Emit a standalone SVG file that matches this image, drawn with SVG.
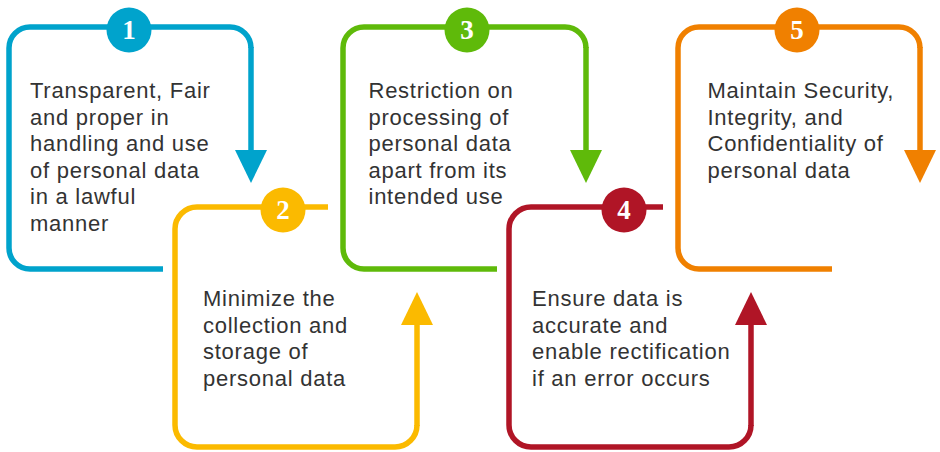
<svg xmlns="http://www.w3.org/2000/svg" width="940" height="452" viewBox="0 0 940 452">
<style>
.frame{fill:none;stroke-width:5.5;stroke-linecap:butt;stroke-linejoin:round}
.conn{fill:none;stroke-width:5.5;stroke-linecap:butt}
.t{font-family:"Liberation Sans",Arial,sans-serif;font-size:22px;letter-spacing:0.75px;fill:#333333}
.num{font-family:"Liberation Serif","Times New Roman",serif;font-weight:bold;font-size:27px;fill:#ffffff;text-anchor:middle}
.c1{stroke:#00A3CC}.f1{fill:#00A3CC}
.c2{stroke:#FBBA00}.f2{fill:#FBBA00}
.c3{stroke:#5FBA0A}.f3{fill:#5FBA0A}
.c4{stroke:#B01526}.f4{fill:#B01526}
.c5{stroke:#F08000}.f5{fill:#F08000}
</style>
<defs>
<marker id="a1" markerUnits="userSpaceOnUse" markerWidth="34" markerHeight="32" refX="1" refY="16" orient="auto"><path d="M0,0 L33,16 L0,32 Z" class="f1"/></marker>
<marker id="a2" markerUnits="userSpaceOnUse" markerWidth="34" markerHeight="32" refX="1" refY="16" orient="auto"><path d="M0,0 L33,16 L0,32 Z" class="f2"/></marker>
<marker id="a3" markerUnits="userSpaceOnUse" markerWidth="34" markerHeight="32" refX="1" refY="16" orient="auto"><path d="M0,0 L33,16 L0,32 Z" class="f3"/></marker>
<marker id="a4" markerUnits="userSpaceOnUse" markerWidth="34" markerHeight="32" refX="1" refY="16" orient="auto"><path d="M0,0 L33,16 L0,32 Z" class="f4"/></marker>
<marker id="a5" markerUnits="userSpaceOnUse" markerWidth="34" markerHeight="32" refX="1" refY="16" orient="auto"><path d="M0,0 L33,16 L0,32 Z" class="f5"/></marker>
</defs>
<rect width="940" height="452" fill="#ffffff"/>
<g id="connectors">
<path class="conn c1" d="M251,47 V151" marker-end="url(#a1)"/>
<path class="conn c2" d="M417,426 V324" marker-end="url(#a2)"/>
<path class="conn c3" d="M586,47 V151" marker-end="url(#a3)"/>
<path class="conn c4" d="M751,426 V324" marker-end="url(#a4)"/>
<path class="conn c5" d="M920,47 V151" marker-end="url(#a5)"/>
</g>
<g id="step1">
<path class="frame c1" d="M163,269 H30 A21,21 0 0 1 9,248 V48 A21,21 0 0 1 30,27 H230 A21,21 0 0 1 251,48"/>
<circle cx="129" cy="30" r="22.5" class="f1"/>
<text class="num" x="129" y="39">1</text>
<text class="t"><tspan x="30" y="98">Transparent, Fair</tspan><tspan x="30" y="124.6">and proper in</tspan><tspan x="30" y="151.2">handling and use</tspan><tspan x="30" y="177.8">of personal data</tspan><tspan x="30" y="204.4">in a lawful</tspan><tspan x="30" y="231">manner</tspan></text>
</g>
<g id="step2">
<path class="frame c2" d="M328,207 H197 A22,22 0 0 0 175,229 V425 A22,22 0 0 0 197,447 H395 A22,22 0 0 0 417,425"/>
<circle cx="283" cy="210" r="22.5" class="f2"/>
<text class="num" x="283" y="219">2</text>
<text class="t"><tspan x="203" y="306">Minimize the</tspan><tspan x="203" y="332.6">collection and</tspan><tspan x="203" y="359.2">storage of</tspan><tspan x="203" y="385.8">personal data</tspan></text>
</g>
<g id="step3">
<path class="frame c3" d="M497,269 H364 A21,21 0 0 1 343,248 V48 A21,21 0 0 1 364,27 H565 A21,21 0 0 1 586,48"/>
<circle cx="467" cy="30" r="22.5" class="f3"/>
<text class="num" x="467" y="39">3</text>
<text class="t"><tspan x="368.5" y="98">Restriction on</tspan><tspan x="368.5" y="124.6">processing of</tspan><tspan x="368.5" y="151.2">personal data</tspan><tspan x="368.5" y="177.8">apart from its</tspan><tspan x="368.5" y="204.4">intended use</tspan></text>
</g>
<g id="step4">
<path class="frame c4" d="M663,207 H531 A22,22 0 0 0 509,229 V425 A22,22 0 0 0 531,447 H729 A22,22 0 0 0 751,425"/>
<circle cx="624" cy="210" r="22.5" class="f4"/>
<text class="num" x="624" y="219">4</text>
<text class="t"><tspan x="532" y="306">Ensure data is</tspan><tspan x="532" y="332.6">accurate and</tspan><tspan x="532" y="359.2">enable rectification</tspan><tspan x="532" y="385.8">if an error occurs</tspan></text>
</g>
<g id="step5">
<path class="frame c5" d="M832,269 H699 A21,21 0 0 1 678,248 V48 A21,21 0 0 1 699,27 H899 A21,21 0 0 1 920,48"/>
<circle cx="797" cy="30" r="22.5" class="f5"/>
<text class="num" x="797" y="39">5</text>
<text class="t"><tspan x="707.5" y="98">Maintain Security,</tspan><tspan x="707.5" y="124.6">Integrity, and</tspan><tspan x="707.5" y="151.2">Confidentiality of</tspan><tspan x="707.5" y="177.8">personal data</tspan></text>
</g>
</svg>
